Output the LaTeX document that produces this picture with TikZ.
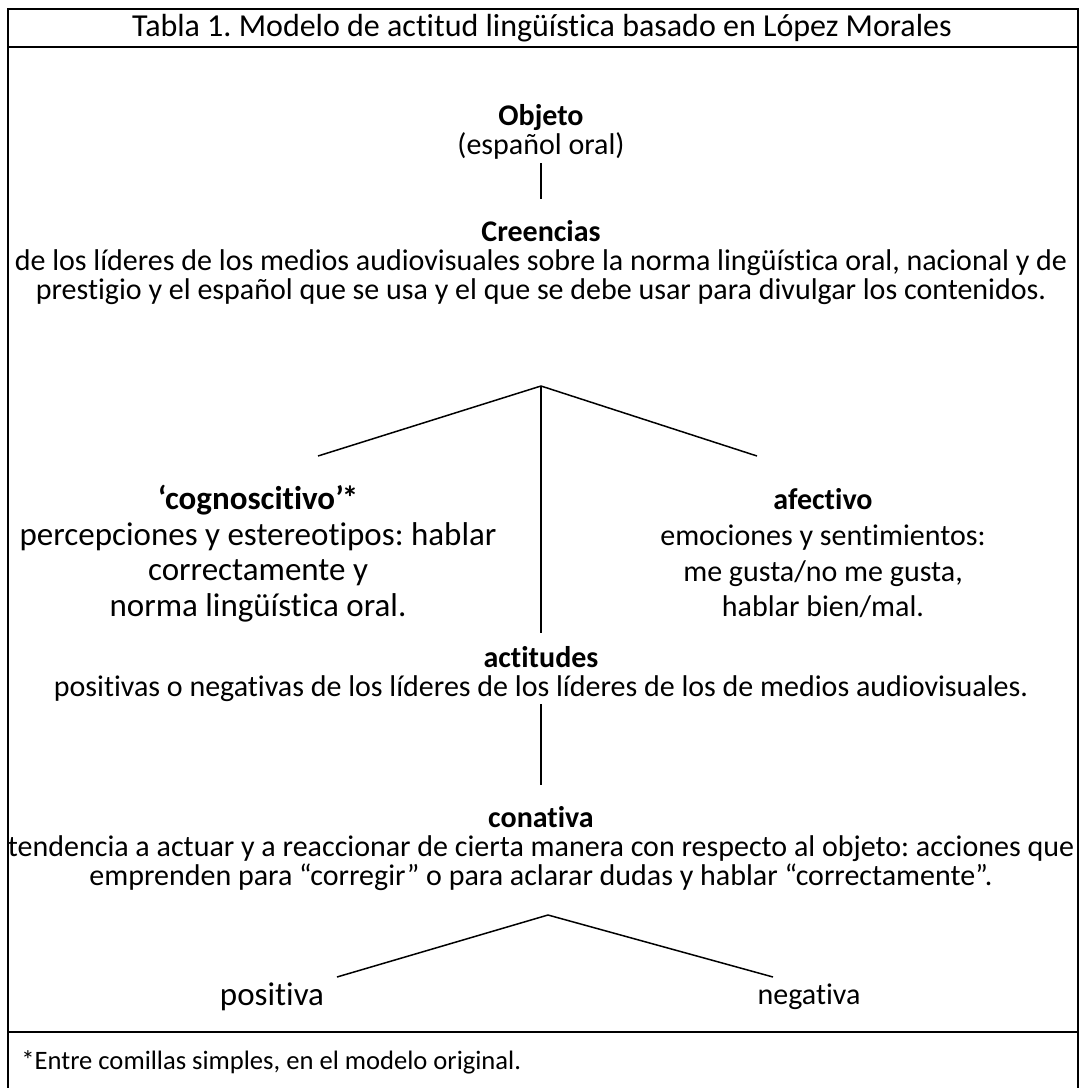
\documentclass[tikz,border=0pt]{standalone}
\usepackage{fontspec}
\setmainfont{Carlito}[Ligatures=NoCommon]
\frenchspacing

\begin{document}
\begin{tikzpicture}[x=0.5pt,y=-0.5pt]
    \tikzstyle{block}=[inner sep=0pt,align=center,font=\fontsize{15}{14.5}\selectfont]
    \tikzstyle{branch}=[align=center,inner sep=0pt,font=\fontsize{15}{17.8}\selectfont]
    \tikzstyle{frame}=[line width=0.95pt]
    \tikzstyle{edge}=[line width=0.75pt]
    \useasboundingbox (0,0) rectangle (1078,1088);

    % frame of the table
    \draw[frame] (8,1095) -- (8,9) -- (1078,9) -- (1078,1095);
    \draw[frame] (8,47) -- (1078,47);
    \draw[frame] (8,1032) -- (1078,1032);
    \node[block, font=\fontsize{16}{17}\selectfont] (title) at (542,28)
        {Tabla 1. Modelo de actitud lingüística basado en López Morales};

    % upper part
    \node[block] (objeto) at (541,131.5) {\textbf{Objeto}\\(español oral)};
    \node[block] (creencias) at (541,263) {\textbf{Creencias}\\
        de los líderes de los medios audiovisuales sobre la norma lingüística oral, nacional y de\\
        prestigio y el español que se usa y el que se debe usar para divulgar los contenidos.};

    \coordinate (top1) at (541,386);
    \coordinate (cogend) at (318,456);
    \coordinate (afend) at (757,456);
    \coordinate (midend) at (541,633);

    \node[branch, font=\fontsize{16.5}{17.8}\selectfont] (cogn) at (258,553.5) {\textbf{‘cognoscitivo’\kern-1pt*}\\
        percepciones y estereotipos: hablar\\correctamente y\\norma lingüística oral.};
    \node[branch] (afect) at (823,553.5) {\textbf{afectivo}\\
        emociones y sentimientos:\\me gusta/no me gusta,\\hablar bien/mal.};

    % lower part
    \node[block] (actit) at (541,674) {\textbf{actitudes}\\
        positivas o negativas de los líderes de los líderes de los de medios audiovisuales.};
    \node[block] (conat) at (541,849) {\textbf{conativa}\\
        tendencia a actuar y a reaccionar de cierta manera con respecto al objeto: acciones que\\
        emprenden para “corregir” o para aclarar dudas y hablar “correctamente”.};

    \coordinate (top2) at (548,915);
    \coordinate (posend) at (337,977);
    \coordinate (negend) at (773,977);

    \node[block, font=\fontsize{16.5}{17}\selectfont] (pos) at (272,997) {positiva};
    \node[block] (neg) at (809,997) {negativa};

    \node[block, anchor=west, font=\fontsize{13.3}{14}\selectfont] (foot) at (21,1062)
        {*Entre comillas simples, en el modelo original.};

    % edges
    \draw[edge, shorten <=2pt, shorten >=11pt] (objeto) -- (creencias);
    \draw[edge] (top1) -- (cogend);
    \draw[edge] (top1) -- (afend);
    \draw[edge] (top1) -- (midend);
    \draw[edge, shorten <=1pt, shorten >=11pt] (actit) -- (conat);
    \draw[edge] (top2) -- (posend);
    \draw[edge] (top2) -- (negend);

\end{tikzpicture}
\end{document}
